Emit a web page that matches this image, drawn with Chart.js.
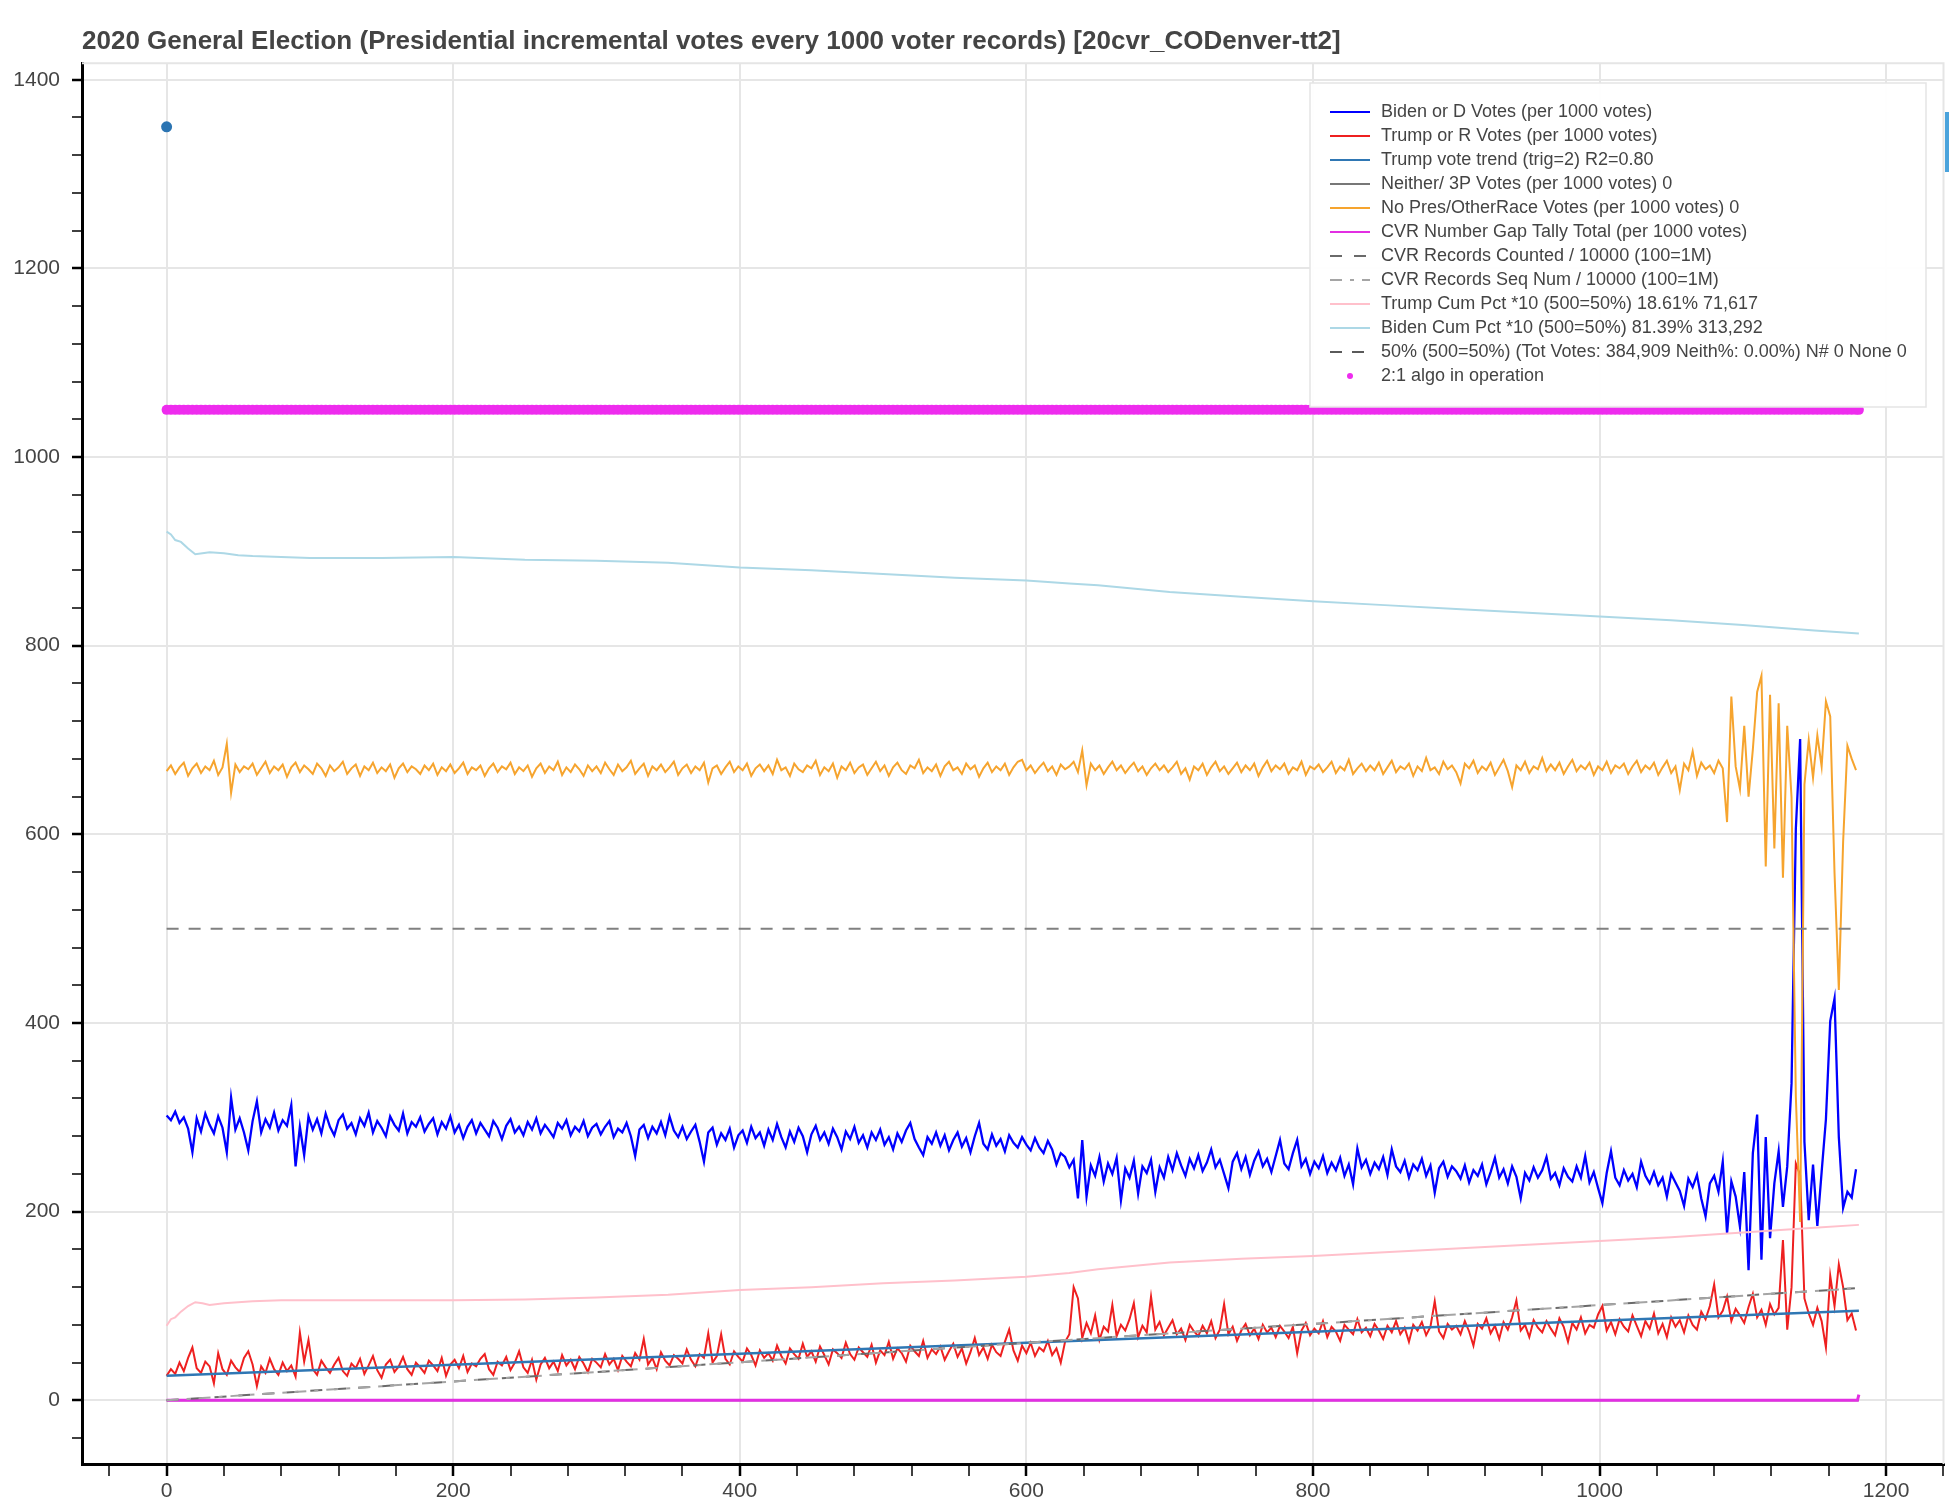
<!DOCTYPE html>
<html>
<head>
<meta charset="utf-8">
<title>2020 General Election - 20cvr_CODenver-tt2</title>
<script src="https://cdn.jsdelivr.net/npm/chart.js@4.4.0/dist/chart.umd.min.js"></script>
<style>
  html, body { margin: 0; padding: 0; background: #fff; }
  #wrap { width: 1949px; height: 1507px; position: relative; }
</style>
</head>
<body>
<div id="wrap"><canvas id="myChart"></canvas></div>
<script>
// chunk index (1 chunk = 1000 voter records), read every 3 chunks
var chunkX = [];
for (var k = 0; k <= 1179; k += 3) chunkX.push(k);

var bidenVotes = [
  302,297,306,294,300,288,263,299,285,304,292,283,301,289,263,321,287,299,284,265,
  296,317,284,298,289,305,286,297,291,313,248,290,260,301,287,298,283,304,290,281,
  297,303,288,294,282,299,291,305,284,296,289,280,301,292,286,304,283,295,290,300,
  285,293,299,282,295,288,301,284,292,278,290,297,283,294,287,280,296,289,277,291,
  298,284,290,281,295,287,299,283,292,286,279,294,288,297,281,290,285,296,280,289,
  293,282,290,296,279,288,284,294,280,259,287,292,278,290,283,295,281,301,286,279,
  290,277,285,292,274,253,284,289,271,283,276,288,268,281,286,273,290,278,284,270,
  287,276,293,279,268,285,274,289,280,263,282,291,276,284,272,288,279,266,285,277,
  290,273,281,268,284,276,287,271,279,266,283,274,286,294,277,268,260,279,272,284,
  270,281,265,276,284,269,278,263,280,294,272,266,282,270,277,264,281,273,268,279,
  271,265,278,268,262,275,266,250,262,258,247,255,214,276,216,249,238,258,232,251,
  240,257,212,246,236,254,219,248,241,255,221,247,236,258,244,262,249,238,256,246,
  260,243,252,266,247,255,240,225,253,262,245,258,239,254,264,248,256,242,259,276,
  251,245,262,276,248,256,240,253,246,259,241,252,244,257,238,250,229,267,247,255,
  240,252,245,258,239,266,248,242,254,236,250,244,256,238,249,220,246,253,237,248,
  243,235,249,231,244,238,250,229,242,257,236,245,230,248,237,214,241,233,247,236,
  244,258,235,241,228,246,237,232,248,236,259,231,242,225,209,241,264,236,228,244,
  233,240,226,253,238,230,242,228,236,216,240,231,222,206,235,226,239,214,195,230,
  238,221,253,177,232,216,184,242,138,262,303,149,279,172,230,264,205,248,336,606,
  701,274,191,250,185,242,298,402,426,279,204,221,215,245
];

var trumpVotes = [
  26,33,28,40,31,45,56,34,29,41,36,18,50,33,27,42,35,30,45,52,
  38,15,36,29,44,33,27,40,31,37,25,72,41,64,33,27,42,35,29,38,
  45,31,26,39,34,44,28,37,47,32,24,38,43,30,36,46,33,27,40,35,
  29,42,37,31,45,26,38,43,34,47,30,39,36,44,49,33,27,41,37,46,
  32,40,52,35,29,43,22,38,45,34,41,31,48,37,43,33,46,39,30,44,
  40,35,49,38,44,32,47,41,36,50,43,65,38,45,33,51,42,37,48,44,
  39,54,43,36,49,45,71,40,47,70,44,38,52,46,41,55,48,37,53,45,
  50,42,58,47,39,55,49,44,60,46,52,41,57,48,38,54,50,45,61,49,
  43,56,51,46,59,40,53,48,62,44,55,50,41,58,52,47,63,45,54,49,
  57,43,52,60,46,55,39,51,66,48,56,44,59,51,47,62,75,53,42,58,
  50,61,47,56,52,63,48,55,40,62,70,120,108,66,82,71,90,64,78,73,
  101,68,80,74,86,103,67,79,72,110,75,83,69,77,85,70,76,64,80,73,
  68,79,71,84,66,75,102,70,78,63,74,81,69,76,65,80,72,77,67,79,
  73,66,78,50,74,82,69,76,71,84,67,78,73,63,80,75,70,86,72,77,
  68,81,74,65,79,72,84,70,77,62,80,74,83,69,78,105,73,66,81,75,
  79,70,84,73,58,81,76,87,71,79,65,83,75,88,106,74,80,67,85,77,
  72,84,76,69,87,78,62,82,75,88,71,80,77,91,100,74,83,70,86,78,
  73,90,79,68,84,76,92,71,81,67,88,78,85,72,90,80,75,94,86,100,
  123,88,95,110,84,97,90,82,99,113,88,96,80,102,91,98,170,75,120,251,
  239,108,92,80,98,84,56,132,100,144,120,85,92,74
];

var otherRaceVotes = [
  667,673,664,671,676,662,670,675,665,672,668,678,663,671,696,644,674,666,672,669,
  675,663,670,677,665,672,668,674,661,671,676,666,673,669,664,675,670,662,673,667,
  671,677,664,670,674,662,672,668,676,665,671,667,674,660,670,675,666,672,669,664,
  673,668,675,663,671,667,674,665,670,676,664,671,668,673,662,670,675,666,672,669,
  676,664,671,667,673,661,670,675,665,672,668,677,663,671,666,674,669,662,673,667,
  672,665,676,669,663,674,667,671,678,664,670,675,662,672,668,674,666,671,677,663,
  670,674,665,672,668,676,655,670,673,664,671,677,666,672,668,675,662,670,674,667,
  673,664,679,668,671,662,675,669,666,673,670,678,663,671,667,675,660,672,668,676,
  665,671,674,663,670,677,667,673,662,671,676,668,664,673,670,679,665,671,667,674,
  662,672,677,668,671,664,675,669,673,661,670,676,666,672,668,675,663,671,677,679,
  668,673,665,671,676,667,672,663,674,669,672,677,666,689,652,675,668,673,664,671,
  677,668,673,665,671,676,667,672,663,670,675,668,673,666,671,677,664,670,658,672,
  668,675,663,671,677,667,672,664,670,676,666,673,668,675,662,671,678,667,673,669,
  675,664,671,668,677,663,672,669,674,666,671,677,665,672,668,679,664,670,675,667,
  673,668,676,664,671,678,666,672,669,675,662,672,667,681,668,671,664,677,669,673,
  666,654,675,670,678,665,672,668,676,663,671,679,667,650,673,668,677,665,672,669,
  681,667,674,668,676,664,672,679,667,673,669,676,663,672,668,677,665,673,670,675,
  664,672,678,666,673,669,676,663,671,678,665,672,647,675,668,688,662,676,669,673,
  665,678,670,613,746,672,648,715,640,690,751,768,566,748,585,739,554,715,639,322,
  189,653,700,660,705,672,741,725,559,435,592,694,680,668
];

// smoother series, read at their own chunk positions
var trendX = [0, 300, 600, 900, 1181];
var trendVals = [26, 43.5, 61, 78.5, 95];

var cvrX = [0, 300, 600, 900, 1181];
var cvrCounted = [0, 30, 61, 91, 119];
var cvrSeq = [0, 30, 61, 91, 119];

var flatX = [0, 1181];
var neitherVals = [0, 0];
var halfLine = [500, 500];

var gapX = [0, 1180, 1181];
var gapVals = [0, 0, 6];

var cumX = [0,3,6,10,15,20,25,30,40,50,60,80,100,150,200,250,300,350,400,450,500,550,600,630,650,700,750,800,850,900,950,1000,1050,1100,1150,1181];
var trumpCum = [79,86,88,94,100,104,103,101,103,104,105,106,106,106,106,107,109,112,117,120,124,127,131,135,139,146,150,153,157,161,165,169,173,178,183,186];
var bidenCum = [921,918,912,910,903,897,898,899,898,896,895,894,893,893,894,891,890,888,883,880,876,872,869,866,864,857,852,847,843,839,835,831,827,822,816,813];

var algoRuns = [[0, 1181]];
var algoLevel = 1050;

var markerX = [0];
var markerVals = [1350];

var xTickValues = [];
for (var t = -40; t <= 1240; t += 40) xTickValues.push(t);
var yTickValues = [];
for (var u = -40; u <= 1400; u += 40) yTickValues.push(u);

function pts(xs, ys) {
  return xs.map(function (x, i) { return { x: x, y: ys[i] }; });
}
function algoPoints() {
  var xs = chunkX.concat([1181]).filter(function (x) {
    return algoRuns.some(function (r) { return x >= r[0] && x <= r[1]; });
  });
  return xs.map(function (x) { return { x: x, y: algoLevel }; });
}
function isMajor(c) { return c.tick && c.tick.value % 200 === 0; }

var plotFrame = {
  id: 'plotFrame',
  beforeDatasetsDraw: function (chart) {
    var a = chart.chartArea, ctx = chart.ctx;
    ctx.save();
    ctx.strokeStyle = '#e5e5e5';
    ctx.lineWidth = 2;
    ctx.beginPath();
    ctx.moveTo(a.left, a.top);
    ctx.lineTo(a.right, a.top);
    ctx.lineTo(a.right, a.bottom);
    ctx.stroke();
    ctx.restore();
  },
  afterDraw: function (chart) {
    var ctx = chart.ctx;
    ctx.save();
    ctx.fillStyle = '#4aa3dc';
    ctx.fillRect(1945, 112, 4, 60);
    ctx.restore();
  }
};

var boxLegend = {
  id: 'boxLegend',
  afterDatasetsDraw: function (chart, args, o) {
    var ctx = chart.ctx;
    var items = chart.data.datasets.filter(function (d) { return !d.hideInLegend; });
    ctx.save();
    ctx.fillStyle = 'rgba(255,255,255,0.96)';
    ctx.fillRect(o.left, o.top, o.width, o.height);
    ctx.strokeStyle = '#e5e5e5';
    ctx.lineWidth = 1.5;
    ctx.strokeRect(o.left, o.top, o.width, o.height);
    ctx.font = o.font;
    ctx.textBaseline = 'middle';
    items.forEach(function (d, i) {
      var cy = o.firstRow + i * o.rowGap;
      if (d.legendGlyph === 'dot') {
        ctx.fillStyle = d.pointBackgroundColor;
        ctx.beginPath();
        ctx.arc(o.glyphX + o.glyphW / 2, cy, 3, 0, Math.PI * 2);
        ctx.fill();
      } else {
        ctx.strokeStyle = d.legendColor || d.borderColor;
        ctx.lineWidth = 2;
        ctx.setLineDash(d.borderDash || []);
        ctx.beginPath();
        ctx.moveTo(o.glyphX, cy);
        ctx.lineTo(o.glyphX + o.glyphW, cy);
        ctx.stroke();
        ctx.setLineDash([]);
      }
      ctx.fillStyle = '#444';
      ctx.fillText(d.label, o.textX, cy);
    });
    ctx.restore();
  }
};

function lineSet(label, xs, ys, color, width, order, extra) {
  var ds = {
    label: label, data: pts(xs, ys), borderColor: color, backgroundColor: color,
    borderWidth: width, pointRadius: 0, tension: 0, fill: false, order: order
  };
  for (var key in (extra || {})) ds[key] = extra[key];
  return ds;
}

Chart.defaults.font.family = '"Liberation Sans", Arial, Helvetica, sans-serif';

var ctx = document.getElementById('myChart').getContext('2d');
var chart = new Chart(ctx, {
  type: 'line',
  data: {
    datasets: [
      lineSet('Biden or D Votes (per 1000 votes)', chunkX, bidenVotes, '#0000ff', 2.3, 13),
      lineSet('Trump or R Votes (per 1000 votes)', chunkX, trumpVotes, '#ee2020', 2, 12),
      lineSet('Trump vote trend (trig=2) R2=0.80', trendX, trendVals, '#2f77b4', 2.5, 11),
      lineSet('Neither/ 3P Votes (per 1000 votes) 0', flatX, neitherVals, '#777777', 2, 10),
      lineSet('No Pres/OtherRace Votes (per 1000 votes) 0', chunkX, otherRaceVotes, '#f6a42e', 2, 9),
      lineSet('CVR Number Gap Tally Total (per 1000 votes)', gapX, gapVals, '#e22fe2', 3, 8),
      lineSet('CVR Records Counted / 10000 (100=1M)', cvrX, cvrCounted, '#6a6a6a', 2, 7, { borderDash: [12, 12] }),
      lineSet('CVR Records Seq Num / 10000 (100=1M)', cvrX, cvrSeq, '#a5a5a5', 2, 6, { borderDash: [12, 8, 4, 8] }),
      lineSet('Trump Cum Pct *10 (500=50%) 18.61% 71,617', cumX, trumpCum, '#ffc0cb', 2, 5),
      lineSet('Biden Cum Pct *10 (500=50%) 81.39% 313,292', cumX, bidenCum, '#add8e6', 2, 4),
      lineSet('50% (500=50%) (Tot Votes: 384,909 Neith%: 0.00%) N# 0 None 0', flatX, halfLine, '#808080', 2, 3,
        { borderDash: [12, 10], legendColor: '#5a5a5a' }),
      {
        label: '2:1 algo in operation', data: algoPoints(), showLine: false, order: 2,
        pointRadius: 5, pointHoverRadius: 5, pointBorderWidth: 0,
        pointBackgroundColor: '#ee2cee', borderColor: '#ee2cee', legendGlyph: 'dot'
      },
      {
        label: 'start marker', data: pts(markerX, markerVals), showLine: false, order: 1,
        pointRadius: 5.5, pointBorderWidth: 0, pointBackgroundColor: '#2b74b2',
        borderColor: '#2b74b2', hideInLegend: true
      }
    ]
  },
  options: {
    responsive: true,
    maintainAspectRatio: false,
    devicePixelRatio: 1,
    animation: false,
    events: [],
    layout: { padding: { top: 0, right: 4, bottom: 0, left: 0 } },
    plugins: {
      legend: { display: false },
      tooltip: { enabled: false },
      title: {
        display: true,
        text: '2020 General Election (Presidential incremental votes every 1000 voter records) [20cvr_CODenver-tt2]',
        align: 'start',
        fullSize: false,
        color: '#444',
        font: { size: 26, weight: 'bold' },
        padding: { top: 26, bottom: 6 }
      },
      boxLegend: {
        left: 1310, top: 83, width: 616, height: 324,
        glyphX: 1330, glyphW: 40, textX: 1381,
        firstRow: 112, rowGap: 24,
        font: '18px "Liberation Sans", Arial, sans-serif'
      }
    },
    scales: {
      x: {
        type: 'linear',
        min: -59.05, max: 1240.05,
        bounds: 'data',
        afterBuildTicks: function (s) { s.ticks = xTickValues.map(function (v) { return { value: v }; }); },
        afterFit: function (s) { s.height = 43; },
        ticks: {
          autoSkip: false, maxRotation: 0, minRotation: 0, padding: 3,
          color: '#444', font: { size: 21 },
          callback: function (v) { return v % 200 === 0 ? String(v) : ''; }
        },
        grid: {
          color: function (c) { return isMajor(c) ? '#e6e6e6' : 'rgba(0,0,0,0)'; },
          lineWidth: 2,
          tickColor: '#000',
          tickWidth: function (c) { return isMajor(c) ? 2.5 : 1.5; },
          tickLength: 12
        },
        border: { display: true, color: '#000', width: 3 }
      },
      y: {
        type: 'linear',
        min: -67.5, max: 1417.5,
        bounds: 'data',
        afterBuildTicks: function (s) { s.ticks = yTickValues.map(function (v) { return { value: v }; }); },
        afterFit: function (s) { s.width = 82; },
        ticks: {
          autoSkip: false, padding: 12,
          color: '#444', font: { size: 21 },
          callback: function (v) { return v % 200 === 0 ? String(v) : ''; }
        },
        grid: {
          color: function (c) { return isMajor(c) ? '#e6e6e6' : 'rgba(0,0,0,0)'; },
          lineWidth: 2,
          tickColor: '#000',
          tickWidth: function (c) { return isMajor(c) ? 2.5 : 1.5; },
          tickLength: 10
        },
        border: { display: true, color: '#000', width: 3 }
      }
    }
  },
  plugins: [plotFrame, boxLegend]
});
</script>
</body>
</html>
